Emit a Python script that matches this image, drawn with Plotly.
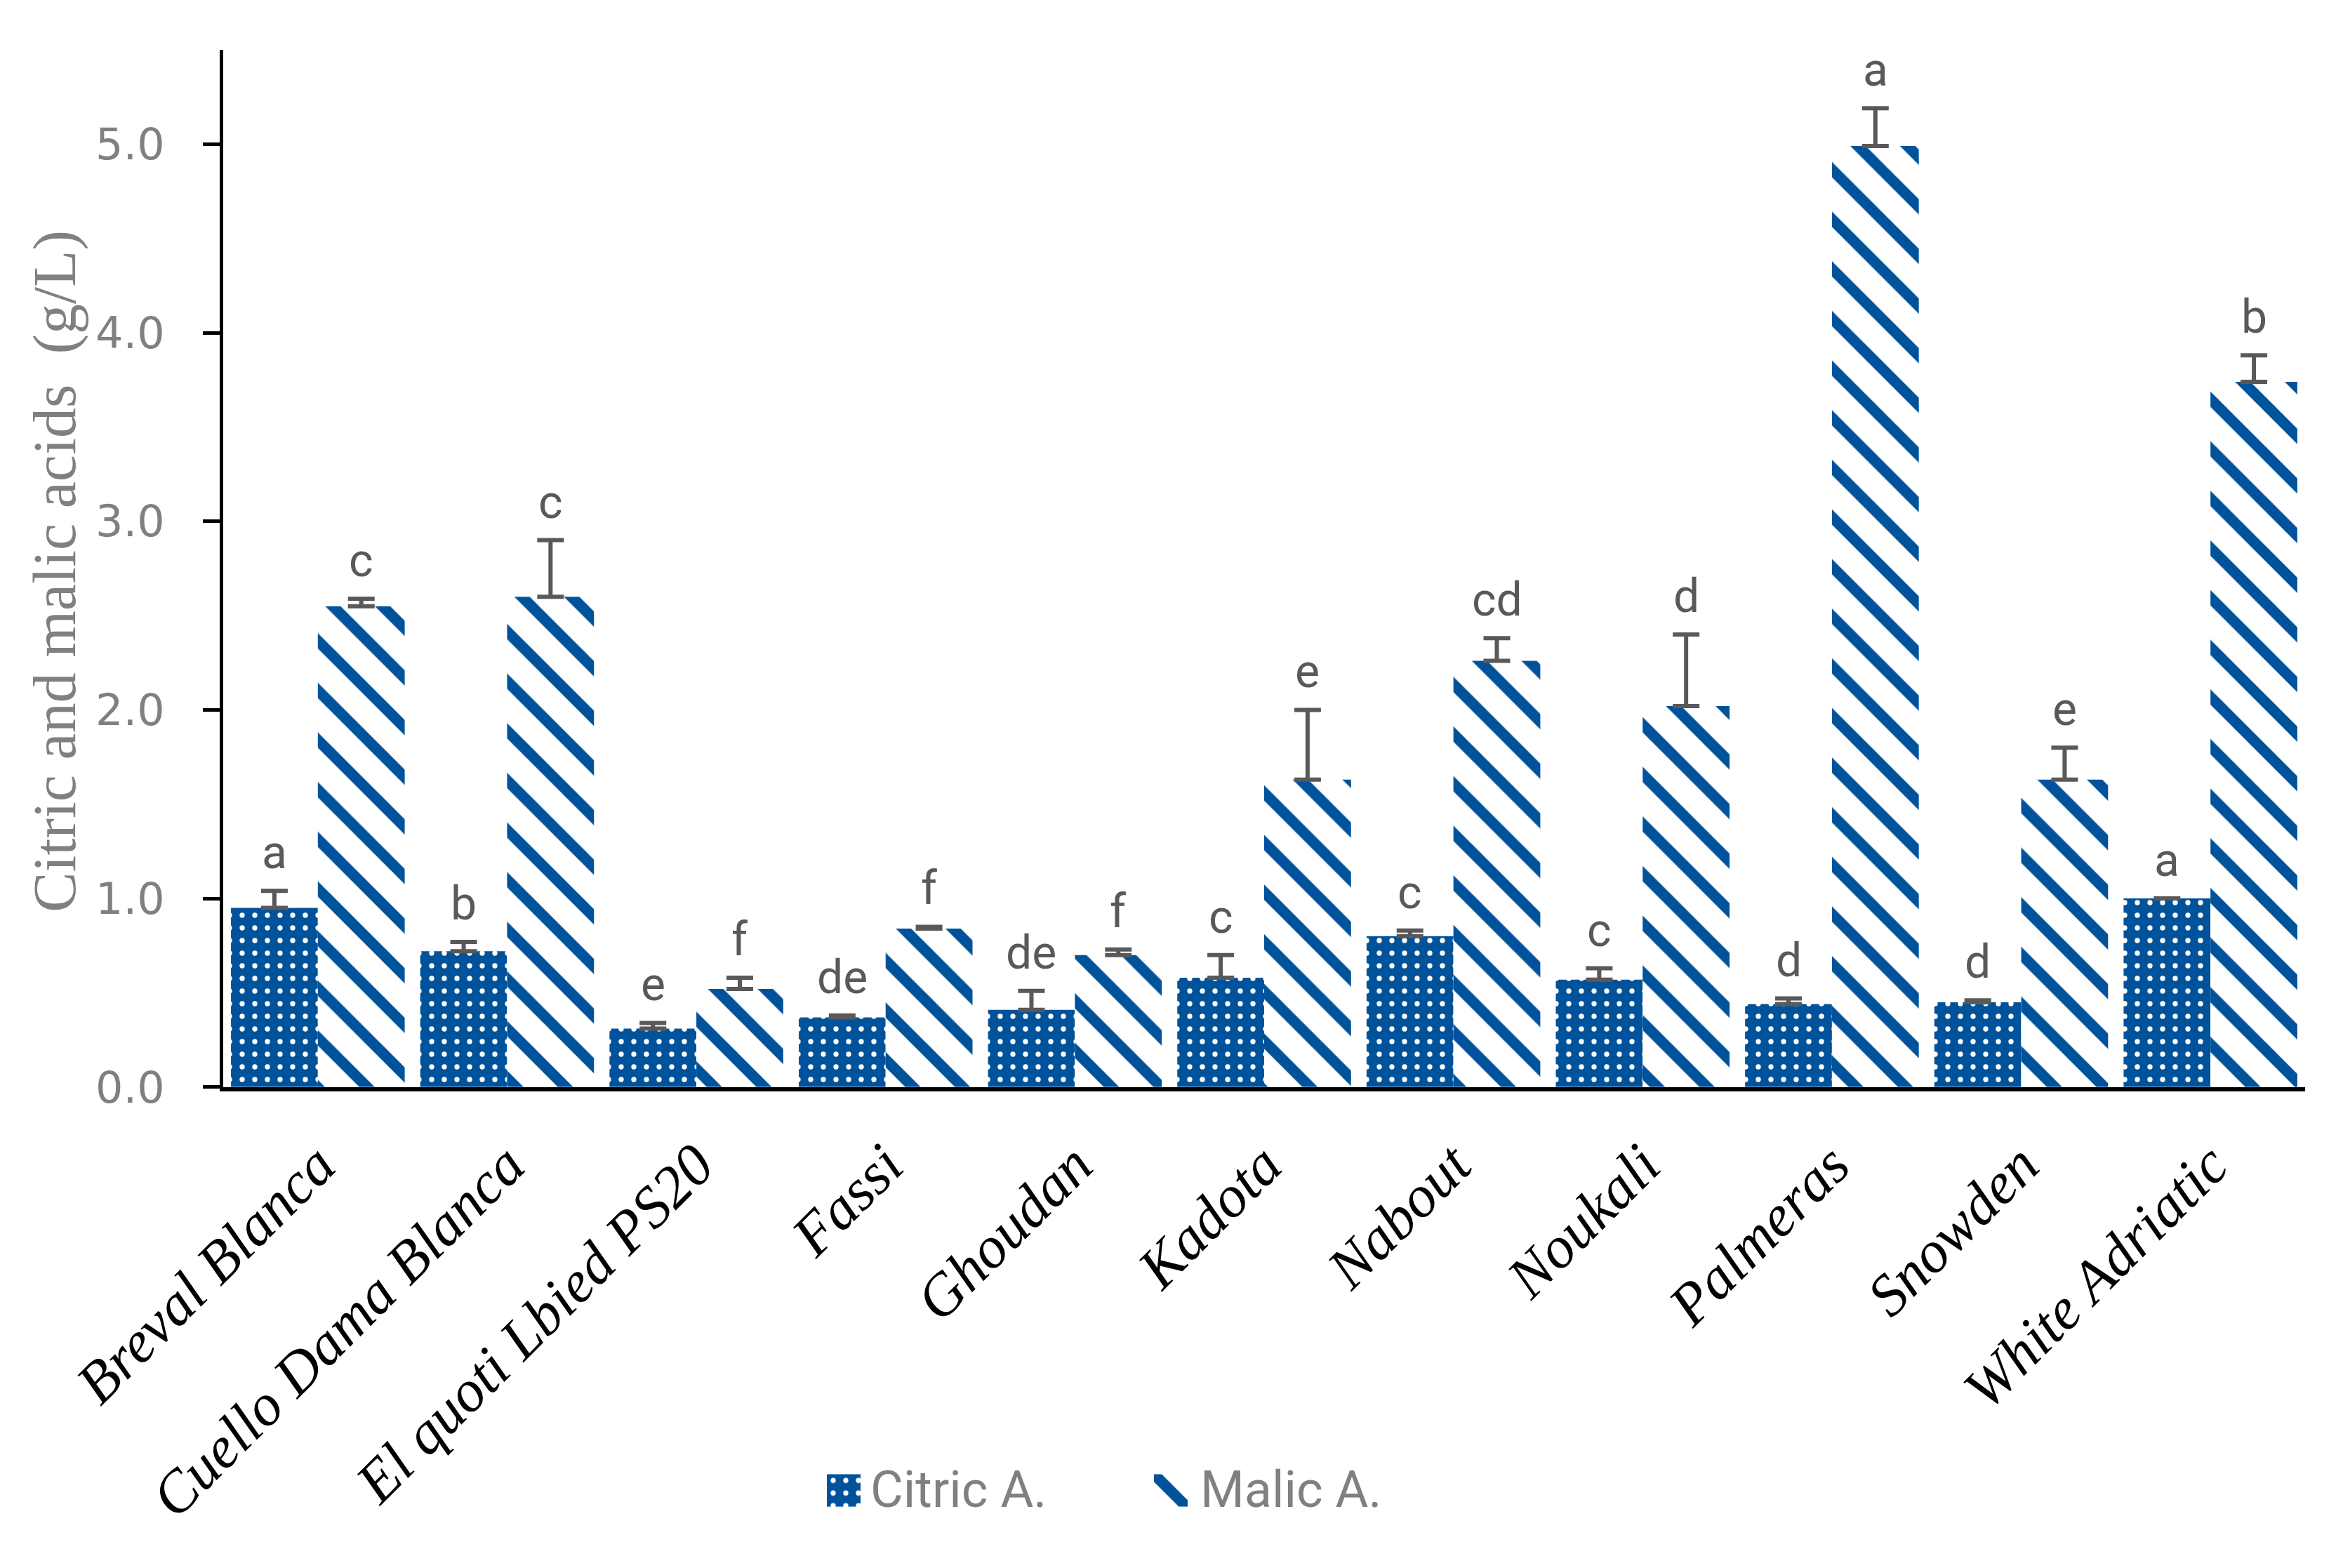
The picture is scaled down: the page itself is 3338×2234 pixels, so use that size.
"""Citric and malic acid content of fig cultivars, grouped bars with error bars."""

import plotly.graph_objects as go

W, H = 3338, 2234
# plot frame in page pixels: axes corner and extents
LEFT, RIGHT, TOP, BOTTOM = 310, 3276, 63, 2214
AXIS_Y = 1561          # pixel row of the x axis line
BARGAP = 0.082

cultivars = [
    "Breval Blanca", "Cuello Dama Blanca", "El quoti Lbied PS20", "Fassi",
    "Ghoudan", "Kadota", "Nabout", "Noukali", "Palmeras", "Snowden",
    "White Adriatic",
]
citric = [0.95, 0.72, 0.31, 0.37, 0.41, 0.58, 0.80, 0.57, 0.44, 0.45, 1.00]
citric_top = [1.04, 0.77, 0.34, 0.38, 0.51, 0.70, 0.83, 0.63, 0.47, 0.46, 1.00]
citric_letters = ["a", "b", "e", "de", "de", "c", "c", "c", "d", "d", "a"]

malic = [2.55, 2.60, 0.52, 0.84, 0.70, 1.63, 2.26, 2.02, 4.99, 1.63, 3.74]
malic_top = [2.59, 2.90, 0.58, 0.85, 0.73, 2.00, 2.38, 2.40, 5.19, 1.80, 3.88]
malic_letters = ["c", "c", "f", "f", "f", "e", "cd", "d", "a", "e", "b"]

series_names = ["Citric A.", "Malic A."]
y_ticks = [0, 1, 2, 3, 4, 5]
y_ticktext = ["0.0", "1.0", "2.0", "3.0", "4.0", "5.0"]
y_title = "Citric and malic acids  (g/L)"

BLUE = "#00539B"
GREY = "#595959"
TICK_GREY = "#808080"
NARROW = "Liberation Sans Narrow, Roboto, sans-serif"

CITRIC_MARKER = dict(
    color=BLUE, line=dict(width=0),
    pattern=dict(shape=".", fgcolor="white", bgcolor=BLUE,
                 size=18, solidity=0.13, fillmode="replace"),
)
MALIC_MARKER = dict(
    color="white", line=dict(width=0),
    pattern=dict(shape="\\", fgcolor=BLUE, bgcolor="white",
                 size=50, solidity=0.31, fillmode="replace"),
)


def px_x(px):
    return (px - LEFT) / (RIGHT - LEFT)


def px_y(py):
    return (BOTTOM - py) / (BOTTOM - TOP)


def err(vals, tops):
    return dict(
        type="data", symmetric=False,
        array=[t - v for v, t in zip(vals, tops)],
        arrayminus=[0] * len(vals),
        color=GREY, thickness=6, width=19,
    )


fig = go.Figure()
fig.add_trace(go.Bar(name=series_names[0], x=cultivars, y=citric,
                     marker=CITRIC_MARKER, error_y=err(citric, citric_top),
                     showlegend=False))
fig.add_trace(go.Bar(name=series_names[1], x=cultivars, y=malic,
                     marker=MALIC_MARKER, error_y=err(malic, malic_top),
                     showlegend=False))

# legend swatches drawn as single bars on tiny hidden axes
fig.add_trace(go.Bar(x=[0], y=[1], width=1, marker=CITRIC_MARKER,
                     xaxis="x2", yaxis="y2", showlegend=False, hoverinfo="skip"))
fig.add_trace(go.Bar(x=[0], y=[1], width=1, marker=MALIC_MARKER,
                     xaxis="x3", yaxis="y3", showlegend=False, hoverinfo="skip"))

# letters above the error bars, shifted to the centre of each bar in the group
bar_w = (RIGHT - LEFT) / len(cultivars) * (1 - BARGAP) / 2
for letters, tops, shift in [
    (citric_letters, citric_top, -bar_w / 2),
    (malic_letters, malic_top, bar_w / 2),
]:
    for name, top, lab in zip(cultivars, tops, letters):
        fig.add_annotation(
            x=name, y=top, text=lab, showarrow=False,
            xshift=shift, yshift=14, yanchor="bottom",
            font=dict(family=NARROW, size=66, color=GREY),
        )

# y axis title
fig.add_annotation(
    xref="paper", yref="paper", x=px_x(70), y=px_y(816),
    text=y_title, textangle=-90, showarrow=False,
    xanchor="center", yanchor="middle",
    font=dict(family="Liberation Serif, serif", size=86, color=TICK_GREY),
)
# legend labels
for name, px in zip(series_names, [1230, 1700]):
    fig.add_annotation(
        xref="paper", yref="paper", x=px_x(px), y=px_y(2143),
        text=name, showarrow=False, xanchor="left", yanchor="middle",
        font=dict(family=NARROW, size=72, color=TICK_GREY),
    )

fig.update_layout(
    width=W, height=H,
    margin=dict(l=LEFT, r=W - RIGHT, t=TOP, b=H - BOTTOM),
    barmode="group", bargap=BARGAP, bargroupgap=0,
    plot_bgcolor="white", paper_bgcolor="white",
    showlegend=False,
    xaxis=dict(
        domain=[0, 1],
        showline=True, linecolor="black", linewidth=6, ticks="",
        tickangle=-45, ticklabelstandoff=22,
        tickfont=dict(family="Liberation Serif, serif", size=84,
                      color="black", style="italic"),
    ),
    yaxis=dict(
        domain=[px_y(AXIS_Y), 1],
        range=[0, 5.5], tickvals=y_ticks, ticktext=y_ticktext,
        showline=True, linecolor="black", linewidth=5,
        ticks="outside", ticklen=24, tickwidth=5, tickcolor="black",
        ticklabelstandoff=42,
        showgrid=False, zeroline=False,
        tickfont=dict(family="DejaVu Sans, sans-serif", size=62, color=TICK_GREY),
    ),
    xaxis2=dict(domain=[px_x(1170), px_x(1218)], anchor="y2",
                range=[-0.5, 0.5], visible=False, fixedrange=True),
    yaxis2=dict(domain=[px_y(2167), px_y(2120)], anchor="x2",
                range=[0, 1], visible=False, fixedrange=True),
    xaxis3=dict(domain=[px_x(1636), px_x(1684)], anchor="y3",
                range=[-0.5, 0.5], visible=False, fixedrange=True),
    yaxis3=dict(domain=[px_y(2167), px_y(2120)], anchor="x3",
                range=[0, 1], visible=False, fixedrange=True),
)

fig.write_html("out.html")
